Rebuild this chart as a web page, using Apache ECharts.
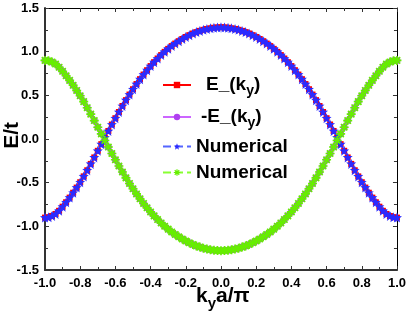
<!DOCTYPE html>
<html>
<head>
<meta charset="utf-8">
<script src="https://cdn.jsdelivr.net/npm/echarts@6/dist/echarts.min.js"></script>
<style>html,body{margin:0;padding:0;background:#fff;}#c{width:409px;height:317px;}</style>
</head>
<body>
<div id="c"></div>
<script>
var kValues = [-1.00,-0.98,-0.96,-0.94,-0.92,-0.90,-0.88,-0.86,-0.84,-0.82,-0.80,-0.78,-0.76,-0.74,-0.72,-0.70,-0.68,-0.66,-0.64,-0.62,-0.60,-0.58,-0.56,-0.54,-0.52,-0.50,-0.48,-0.46,-0.44,-0.42,-0.40,-0.38,-0.36,-0.34,-0.32,-0.30,-0.28,-0.26,-0.24,-0.22,-0.20,-0.18,-0.16,-0.14,-0.12,-0.10,-0.08,-0.06,-0.04,-0.02,0.00,0.02,0.04,0.06,0.08,0.10,0.12,0.14,0.16,0.18,0.20,0.22,0.24,0.26,0.28,0.30,0.32,0.34,0.36,0.38,0.40,0.42,0.44,0.46,0.48,0.50,0.52,0.54,0.56,0.58,0.60,0.62,0.64,0.66,0.68,0.70,0.72,0.74,0.76,0.78,0.80,0.82,0.84,0.86,0.88,0.90,0.92,0.94,0.96,0.98,1.00];

var eMinus = [-0.900,-0.896,-0.882,-0.858,-0.822,-0.775,-0.724,-0.671,-0.615,-0.556,-0.495,-0.428,-0.358,-0.285,-0.211,-0.135,-0.059,0.017,0.092,0.166,0.238,0.309,0.378,0.445,0.509,0.570,0.629,0.685,0.738,0.788,0.835,0.880,0.922,0.961,0.998,1.032,1.064,1.093,1.120,1.145,1.168,1.189,1.208,1.224,1.238,1.250,1.260,1.268,1.274,1.278,1.280,1.278,1.274,1.268,1.260,1.250,1.238,1.224,1.208,1.189,1.168,1.145,1.120,1.093,1.064,1.032,0.998,0.961,0.922,0.880,0.835,0.788,0.738,0.685,0.629,0.570,0.509,0.445,0.378,0.309,0.238,0.166,0.092,0.017,-0.059,-0.135,-0.211,-0.285,-0.358,-0.428,-0.495,-0.556,-0.615,-0.671,-0.724,-0.775,-0.822,-0.858,-0.882,-0.896,-0.900];

var negEMinus = [0.900,0.896,0.882,0.858,0.822,0.775,0.724,0.671,0.615,0.556,0.495,0.428,0.358,0.285,0.211,0.135,0.059,-0.017,-0.092,-0.166,-0.238,-0.309,-0.378,-0.445,-0.509,-0.570,-0.629,-0.685,-0.738,-0.788,-0.835,-0.880,-0.922,-0.961,-0.998,-1.032,-1.064,-1.093,-1.120,-1.145,-1.168,-1.189,-1.208,-1.224,-1.238,-1.250,-1.260,-1.268,-1.274,-1.278,-1.280,-1.278,-1.274,-1.268,-1.260,-1.250,-1.238,-1.224,-1.208,-1.189,-1.168,-1.145,-1.120,-1.093,-1.064,-1.032,-0.998,-0.961,-0.922,-0.880,-0.835,-0.788,-0.738,-0.685,-0.629,-0.570,-0.509,-0.445,-0.378,-0.309,-0.238,-0.166,-0.092,-0.017,0.059,0.135,0.211,0.285,0.358,0.428,0.495,0.556,0.615,0.671,0.724,0.775,0.822,0.858,0.882,0.896,0.900];

var numerical1 = eMinus;
var numerical2 = negEMinus;

var xTicks = [-1.0,-0.8,-0.6,-0.4,-0.2,0.0,0.2,0.4,0.6,0.8,1.0];
var yTicks = [-1.5,-1.0,-0.5,0.0,0.5,1.0,1.5];

var seriesNames = ['E', 'mE', 'N1', 'N2'];

function pairs(ys){ return kValues.map(function(k,i){ return [k, ys[i]]; }); }

var FONT = 'Liberation Sans, Arial, sans-serif';
var starPath = 'path://M50,0 L63,33 L100,35 L71,58 L81,95 L50,74 L19,95 L29,58 L0,35 L37,33 Z';
var astPath = 'path://M41,0 L59,0 L59,100 L41,100 Z M0,41 L100,41 L100,59 L0,59 Z M8,21 L21,8 L92,79 L79,92 Z M79,8 L92,21 L21,92 L8,79 Z';

var chart = echarts.init(document.getElementById('c'), null, {renderer:'canvas'});

function axisCommon(isPrimary, ticks, minorN){
  return {
    type: 'value',
    min: ticks[0], max: ticks[ticks.length-1],
    interval: ticks[1]-ticks[0],
    splitLine: {show:false},
    axisLine: {show:true, onZero:false, lineStyle:{color: isPrimary ? '#333' : '#000', width: isPrimary ? 2 : 1}},
    axisTick: {show:true, inside:true, length:4, lineStyle:{color:'#333', width:1}},
    minorTick: {show:true, splitNumber:minorN, length:3, lineStyle:{color:'#333', width:1}},
    axisLabel: {show:isPrimary, color:'#000', fontFamily:FONT, fontWeight:'bold', fontSize:13,
      showMinLabel:true, showMaxLabel:true,
      formatter: function(v){ if (Math.abs(v) < 1e-9) v = 0; return v.toFixed(1); }}
  };
}

var xB = axisCommon(true, xTicks, 2); xB.position='bottom'; xB.axisLabel.margin = 7;
var xT = axisCommon(false, xTicks, 2); xT.position='top';
var yL = axisCommon(true, yTicks, 2); yL.position='left'; yL.axisLabel.margin = 6;
var yR = axisCommon(false, yTicks, 2); yR.position='right';

var legendText = {
  'E':  '{p1|}{a|E_(k}{s|y}{a|)}',
  'mE': '{p2|}{a|-E_(k}{s|y}{a|)}',
  'N1': '{n|Numerical}',
  'N2': '{n|Numerical}'
};
var legendTops = {'E': 75, 'mE': 107, 'N1': 137, 'N2': 163};

var richStyles = {
  p1: {width: 10},
  p2: {width: 5},
  a: {fontSize: 19, fontWeight:'bold', fontFamily: FONT, color:'#000', verticalAlign:'top', lineHeight: 20},
  s: {fontSize: 14, fontWeight:'bold', fontFamily: FONT, color:'#000', verticalAlign:'top', padding:[9,0,0,0], lineHeight: 16},
  n: {fontSize: 19, fontWeight:'bold', fontFamily: FONT, color:'#000', lineHeight: 20}
};

var legends = seriesNames.map(function(nm){
  return {
    orient: 'vertical', left: 162, top: legendTops[nm], padding: 0,
    itemWidth: 28, itemHeight: 8, itemGap: 0,
    data: [nm],
    formatter: function(name){ return legendText[name]; },
    textStyle: {color:'#000', fontFamily: FONT, fontWeight:'bold', rich: richStyles}
  };
});

var option = {
  animation: false,
  backgroundColor: '#fff',
  grid: {left:45, right:12, top:8, bottom:47, containLabel:false},
  xAxis: [xB, xT],
  yAxis: [yL, yR],
  legend: legends,
  series: [
    {name:'E', type:'line', xAxisIndex:0, yAxisIndex:0, data: pairs(eMinus),
     symbol:'rect', symbolSize:6, lineStyle:{color:'#ff0000', width:1}, itemStyle:{color:'#ff0000'}},
    {name:'mE', type:'line', xAxisIndex:0, yAxisIndex:0, data: pairs(negEMinus),
     symbol:'circle', symbolSize:7, lineStyle:{color:'#cc66ff', width:1}, itemStyle:{color:'#b040f0'}},
    {name:'N1', type:'line', xAxisIndex:0, yAxisIndex:0, data: pairs(numerical1),
     symbol:starPath, symbolSize:10, lineStyle:{color:'#5566ff', width:1, type:'dashed'}, itemStyle:{color:'#2b2bff'}},
    {name:'N2', type:'line', xAxisIndex:0, yAxisIndex:0, data: pairs(numerical2),
     symbol:astPath, symbolSize:9, lineStyle:{color:'#88ff33', width:1, type:'dashed'}, itemStyle:{color:'#66ee00'}}
  ],
  graphic: [
    {type:'text', left: 2, top: 122, rotation: Math.PI/2,
     style:{text:'E/t', font:'bold 21px ' + FONT, fill:'#000'}},
    {type:'text', left: 196, top: 286,
     style:{text:'{a|k}{s|y}{a|a/π}', fill:'#000',
       rich:{a:{fontSize:21, fontWeight:'bold', fontFamily:FONT, verticalAlign:'top', lineHeight:22},
             s:{fontSize:15, fontWeight:'bold', fontFamily:FONT, verticalAlign:'top', padding:[10,0,0,0], lineHeight:17}}}}
  ]
};
chart.setOption(option);
</script>
</body>
</html>
